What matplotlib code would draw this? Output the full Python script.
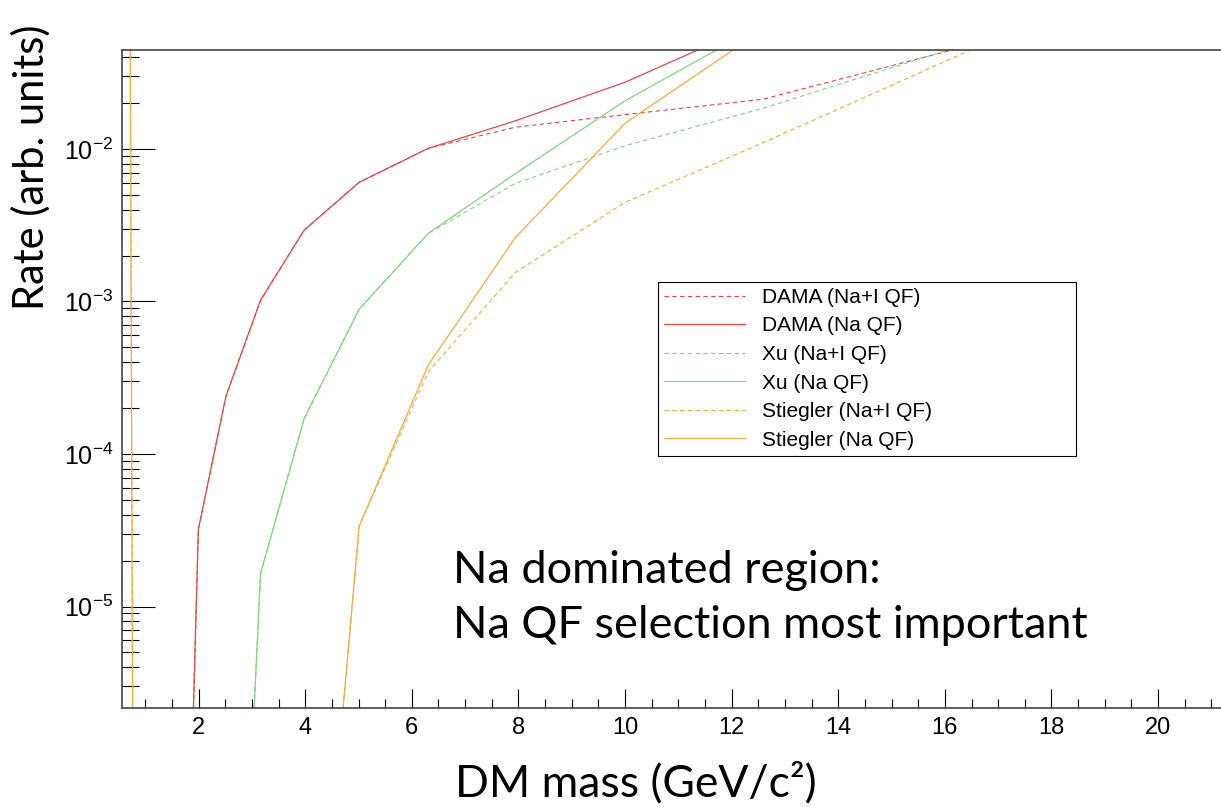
import matplotlib
matplotlib.use("Agg")
import matplotlib.pyplot as plt
from matplotlib.ticker import MultipleLocator, LogLocator, NullFormatter

# DM masses (GeV/c^2), log spaced
mass = [1.585, 1.995, 2.512, 3.162, 3.981, 5.012, 6.310, 7.943, 10.0, 12.59, 15.85, 19.95]

# rates (arb. units)
dama_nai = [2e-10, 3.2e-5, 2.39e-4, 1.02e-3, 2.94e-3, 6.05e-3, 1.01e-2, 1.39e-2, 1.68e-2, 2.12e-2, 4.2e-2, 9.8e-2]
dama_na = [2e-10, 3.2e-5, 2.39e-4, 1.02e-3, 2.94e-3, 6.05e-3, 1.01e-2, 1.53e-2, 2.74e-2, 6.9e-2, 0.12, 0.18]
xu_nai = [1e-12, 1e-11, 2.8e-10, 1.65e-5, 1.71e-4, 8.9e-4, 2.8e-3, 5.95e-3, 1.05e-2, 1.85e-2, 4.23e-2, 0.12]
xu_na = [1e-12, 1e-11, 2.8e-10, 1.65e-5, 1.71e-4, 8.9e-4, 2.8e-3, 6.9e-3, 2.07e-2, 6.6e-2, 0.12, 0.18]
st_nai = [1e-13, 1e-12, 1e-11, 1e-10, 2.8e-9, 3.37e-5, 3.47e-4, 1.55e-3, 4.47e-3, 1.1e-2, 3.55e-2, 0.155]
st_na = [1e-13, 1e-12, 1e-11, 1e-10, 2.8e-9, 3.37e-5, 3.84e-4, 2.63e-3, 1.475e-2, 6.07e-2, 0.12, 0.18]

# near-vertical Stiegler piece at very low mass
st_low_mass = [0.705, 0.775]
st_low_rate = [0.9, 9e-8]

red = "#e0484c"
green = "#86d286"
orange = "#f3ad3c"
dash = (0, (4, 3))

plt.rcParams["font.family"] = "Liberation Sans"

W, H = 1221, 807
fig = plt.figure(figsize=(W / 100, H / 100), dpi=100)
ax = fig.add_axes([121.7 / W, 1 - 707.7 / H, 1 - 121.7 / W, (707.7 - 50) / H])

ax.plot(mass, dama_nai, color=red, lw=0.8, ls=dash, label="DAMA (Na+I QF)")
ax.plot(mass, dama_na, color=red, lw=0.9, label="DAMA (Na QF)")
ax.plot(mass, xu_nai, color=green, lw=0.8, ls=dash, label="Xu (Na+I QF)")
ax.plot(mass, xu_na, color=green, lw=0.9, label="Xu (Na QF)")
ax.plot(mass, st_nai, color=orange, lw=0.8, ls=dash, label="Stiegler (Na+I QF)")
ax.plot(mass, st_na, color=orange, lw=0.9, label="Stiegler (Na QF)")
ax.plot(st_low_mass, st_low_rate, color=orange, lw=0.8, ls=dash)
ax.plot(st_low_mass, st_low_rate, color=orange, lw=0.9)

ax.set_yscale("log")
ax.set_xlim(0.557, 21.18)
ax.set_ylim(2.17e-6, 4.457e-2)

ax.xaxis.set_major_locator(MultipleLocator(2))
ax.xaxis.set_minor_locator(MultipleLocator(0.5))
ax.yaxis.set_major_locator(LogLocator(base=10))
ax.yaxis.set_minor_locator(LogLocator(base=10, subs=range(2, 10)))
ax.yaxis.set_minor_formatter(NullFormatter())

ax.tick_params(axis="x", which="major", direction="in", length=13.9, width=0.8, labelsize=17, pad=7)
ax.tick_params(axis="x", which="minor", direction="in", length=6.7, width=0.8)
ax.tick_params(axis="y", which="major", direction="in", length=23.8, width=0.8, labelsize=18, pad=6)
ax.tick_params(axis="y", which="minor", direction="in", length=12.2, width=0.8)

for s in ["left", "bottom", "top"]:
    ax.spines[s].set_color("#444444")
    ax.spines[s].set_linewidth(1.2)
ax.spines["right"].set_visible(False)

leg = ax.legend(loc="upper left", bbox_to_anchor=(658 / W, 1 - 282 / H - 0.01, 418 / W, 0.01),
                bbox_transform=fig.transFigure, mode="expand", fontsize=15,
                handlelength=3.9, handletextpad=0.8, labelspacing=0.46,
                borderpad=0.28, borderaxespad=0, fancybox=False, framealpha=1)
leg.get_frame().set_edgecolor("black")
leg.get_frame().set_linewidth(0.8)

fig.text(453 / W, 1 - 583 / H, "Na dominated region:", family="Lato", fontsize=32.5, va="baseline")
fig.text(453 / W, 1 - 638 / H, "Na QF selection most important", family="Lato", fontsize=32.5, va="baseline")
fig.text(455 / W, 1 - 796 / H, "DM mass (GeV/c\u00b2)", family="Lato", fontsize=32, va="baseline")
fig.text(31 / W, 1 - 167 / H, "Rate (arb. units)", family="Lato", fontsize=30, rotation=90,
         ha="center", va="center")

fig.savefig("out.png", dpi=100)
